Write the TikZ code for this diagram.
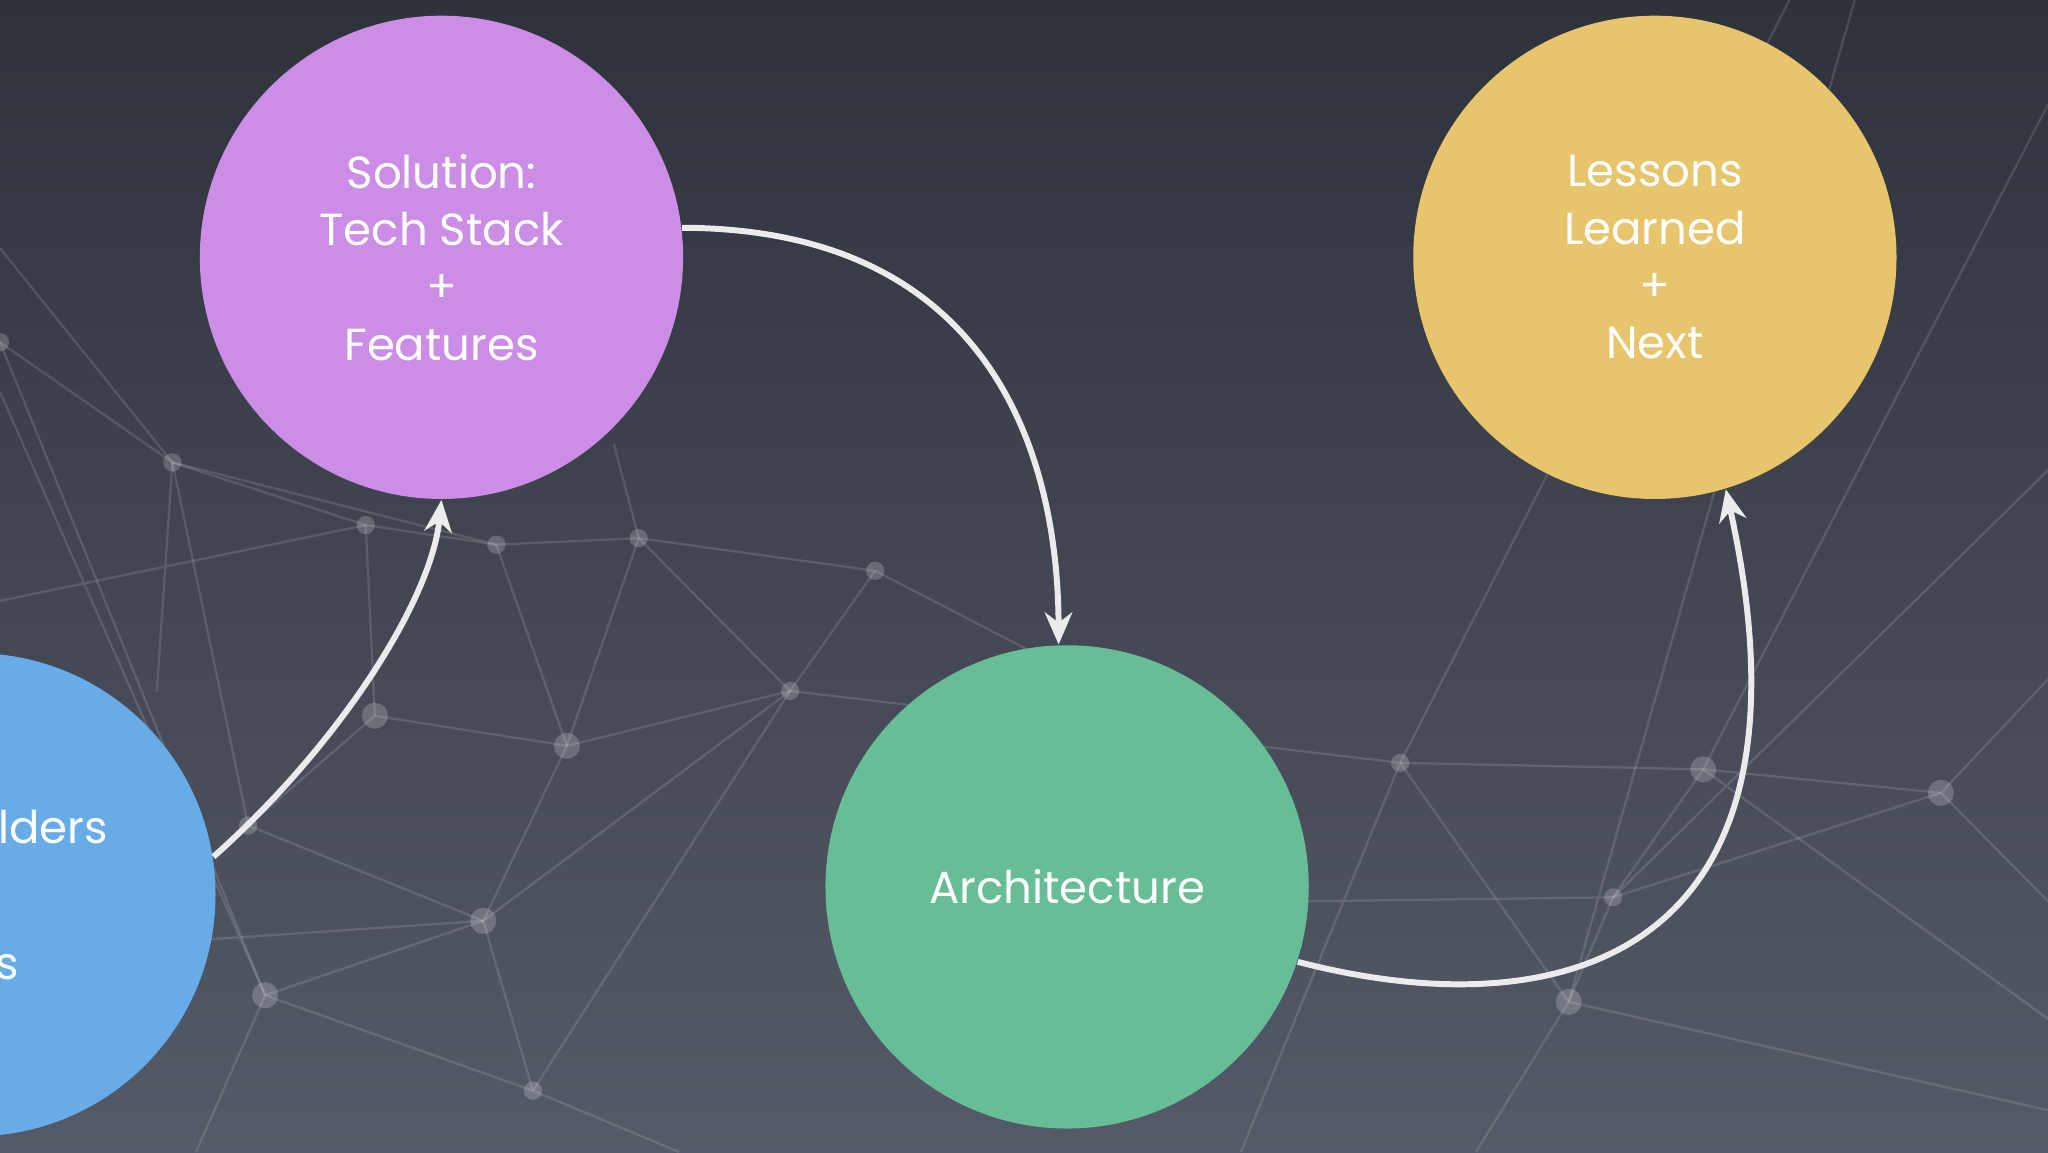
\documentclass[tikz,border=0pt]{standalone}
\usepackage{fontspec}
\setmainfont{Poppins}
\usetikzlibrary{arrows.meta}
\definecolor{bgtop}{HTML}{2E323B}
\definecolor{bgbot}{HTML}{555A68}
\definecolor{cpurple}{HTML}{CB8DE6}
\definecolor{cyellow}{HTML}{E6C56C}
\definecolor{cgreen}{HTML}{67BD96}
\definecolor{cblue}{HTML}{67ACE6}
\tikzset{
  bubble/.style={circle,minimum size=3.7cm,inner sep=0pt,text=white,align=center,font=\fontsize{9.8}{12.5}\selectfont},
  net/.style={white,opacity=0.13,line width=0.5pt},
  dot/.style={fill=white,opacity=0.2},
  flow/.style={draw=white!92!black,line width=1.3pt,-{Stealth[length=7pt,width=6pt]}}
}
\begin{document}
\begin{tikzpicture}
\useasboundingbox (0,0) rectangle (15.68,-8.82);
\clip (0,0) rectangle (15.68,-8.82);
\shade[top color=bgtop,bottom color=bgbot] (0,0) rectangle (15.68,-8.82);
% network
\foreach \n/\p/\q in {a/0/2.62,b/1.32/3.54,c/2.80/4.02,d/3.80/4.17,e/4.89/4.12,f/6.70/4.37,g/6.05/5.29,h/4.34/5.71,i/2.87/5.48,j/1.90/6.32,k/3.70/7.05,l/2.03/7.62,m/4.08/8.35,n/10.72/5.84,o/13.04/5.89,p/12.35/6.87,q/12.01/7.67,r/14.86/6.07}
  \coordinate (n\n) at (\p,-\q);
\foreach \a/\b in {a/b,b/c,c/d,d/e,e/f,b/d,d/h,c/i,h/g,g/f,h/k,i/j,j/k,k/l,l/m,k/m,h/i,g/k,e/g,b/j,n/o,o/r,o/p,p/q,n/q,p/r,m/g,a/l,e/h}
  \draw[net] (n\a) -- (n\b);
\draw[net] (0,-1.9) -- (nb) (0,-4.6) -- (nc) (1.5,-8.82) -- (nl) (5.2,-8.82) -- (nm)
  (nf) -- (8.5,-5.3) (nn) -- (9.5,-8.82) (nq) -- (11.3,-8.82) (nq) -- (15.68,-8.5)
  (nr) -- (15.68,-5.2) (no) -- (15.68,-0.8) (np) -- (15.68,-3.6) (nr) -- (15.68,-6.9)
  (nn) -- (13.7,0) (nq) -- (14.2,0) (no) -- (15.68,-7.8) (10.0,-6.9) -- (np)
  (0,-3.0) -- (nl) (nb) -- (1.2,-5.3) (4.7,-3.4) -- (ne) (0,-7.3) -- (nk) (ng) -- (nn);
\foreach \p in {a,b,c,d,e,f,g,n,p,m,j}
  \fill[dot] (n\p) circle (0.07);
\foreach \p in {h,i,l,o,q,r,k}
  \fill[dot] (n\p) circle (0.1);
% bubbles
\node[bubble,fill=cpurple] (sol) at (3.38,-1.97) {Solution:\\Tech Stack\\+\\Features};
\node[bubble,fill=cyellow] (les) at (12.67,-1.97) {Lessons\\Learned\\+\\Next};
\node[bubble,fill=cgreen] (arc) at (8.17,-6.79) {Architecture};
\node[bubble,fill=cblue] (stk) at (-0.20,-6.85) {};
\node[text=white,font=\fontsize{9.8}{12.5}\selectfont,anchor=east] (t1) at (0.95,-6.33) {Stakeholders};
\node[text=white,font=\fontsize{9.8}{12.5}\selectfont,anchor=east] (t2) at (0.27,-7.37) {Tasks};
% connectors
\draw[flow] (sol.7) .. controls (7.6,-1.75) and (8.1,-3.5) .. (arc.92);
\draw[flow] (stk.9) .. controls (2.6,-5.7) and (3.3,-4.6) .. (sol.-90);
\draw[flow] (arc.-18) .. controls (12.0,-7.9) and (14.0,-7.3) .. (les.-73);
\end{tikzpicture}
\end{document}
